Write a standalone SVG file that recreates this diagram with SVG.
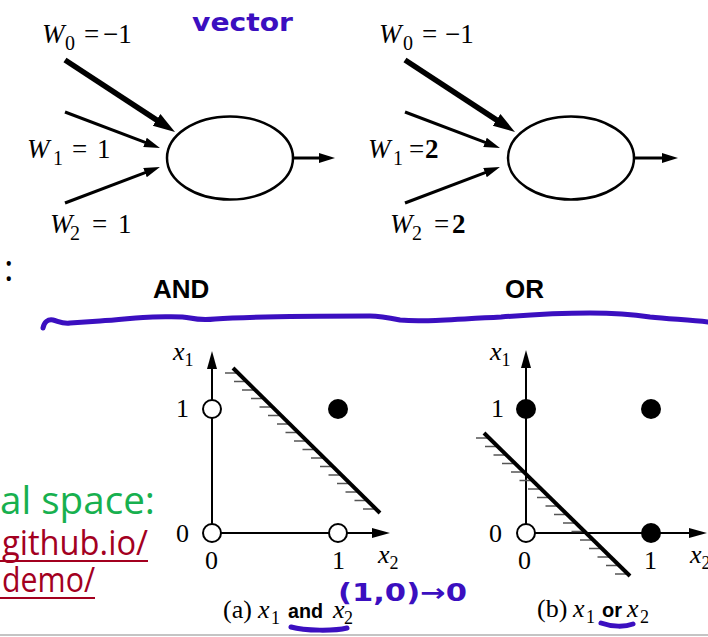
<svg xmlns="http://www.w3.org/2000/svg" width="708" height="637" viewBox="0 0 708 637">
<style>
.serif{font-family:"Liberation Serif","Times New Roman",serif;fill:#000}
.w{font-size:27px}
.sub{font-size:20px}
.lab{font-size:26px}
.lsub{font-size:18px}
.it{font-style:italic}
.bold{font-weight:bold}
.sans{font-family:"Liberation Sans",Arial,sans-serif;font-weight:bold;fill:#000}
.pen{fill:none;stroke:#3b0fc0;stroke-width:5;stroke-linecap:round;stroke-linejoin:round}
.hand{font-family:"DejaVu Sans",sans-serif;font-weight:bold;fill:#3b0fc0}
.ell{fill:#fff;stroke:#000;stroke-width:2.5}
.edge{stroke:#000;fill:none}
.axis{stroke:#000;stroke-width:2;fill:none}
.open{fill:#fff;stroke:#000;stroke-width:2}
.dot{fill:#000}
.sep{stroke:#000;stroke-width:4;fill:none}
.hatch{stroke:#555;stroke-width:1.5;fill:none}
.slide{font-family:"Open Sans","Noto Sans",sans-serif}
</style>
<defs>
<marker id="ahThick" markerUnits="userSpaceOnUse" markerWidth="24" markerHeight="16" refX="3" refY="8" orient="auto"><path d="M0,1 L22,8 L0,15 z" fill="#000"/></marker>
<marker id="ah" markerUnits="userSpaceOnUse" markerWidth="18" markerHeight="12" refX="3" refY="6" orient="auto"><path d="M0,1 L16,6 L0,11 z" fill="#000"/></marker>
<marker id="axh" markerUnits="userSpaceOnUse" markerWidth="20" markerHeight="12" refX="2" refY="6" orient="auto"><path d="M0,1 L18,6 L0,11 z" fill="#000"/></marker>
</defs>
<rect width="708" height="637" fill="#fff"/>

<g id="neuron-and">
<ellipse class="ell" cx="230" cy="158" rx="63" ry="41.5"/>
<text class="serif w" x="42" y="43"><tspan class="it">W</tspan><tspan class="sub" x="65" y="50">0</tspan><tspan x="84" y="43">=</tspan><tspan x="103">−1</tspan></text>
<text class="serif w" x="27" y="158"><tspan class="it">W</tspan><tspan class="sub" x="53" y="165">1</tspan><tspan x="72" y="158">=</tspan><tspan x="97">1</tspan></text>
<text class="serif w" x="50" y="233"><tspan class="it">W</tspan><tspan class="sub" x="70" y="240">2</tspan><tspan x="92" y="233">=</tspan><tspan x="118">1</tspan></text>
</g>

<g id="neuron-or">
<ellipse class="ell" cx="571" cy="158" rx="63" ry="41.5"/>
<text class="serif w" x="379" y="43"><tspan class="it">W</tspan><tspan class="sub" x="403" y="50">0</tspan><tspan x="422" y="43">=</tspan><tspan x="445">−1</tspan></text>
<text class="serif w" x="368" y="158"><tspan class="it">W</tspan><tspan class="sub" x="393" y="165">1</tspan><tspan x="409" y="158">=</tspan><tspan x="425" class="bold">2</tspan></text>
<text class="serif w" x="390" y="233"><tspan class="it">W</tspan><tspan class="sub" x="412" y="240">2</tspan><tspan x="434" y="233">=</tspan><tspan x="452" class="bold">2</tspan></text>
</g>

<g id="connectors">
<line class="edge" x1="65" y1="60" x2="159.1" y2="121.6" stroke-width="5.5" marker-end="url(#ahThick)"/>
<line class="edge" x1="65" y1="112" x2="147.8" y2="143.4" stroke-width="3" marker-end="url(#ah)"/>
<line class="edge" x1="65" y1="203" x2="147.8" y2="171.6" stroke-width="3" marker-end="url(#ah)"/>
<line class="edge" x1="293" y1="158" x2="322" y2="158" stroke-width="3" marker-end="url(#ah)"/>
<line class="edge" x1="405" y1="60" x2="499.1" y2="121.6" stroke-width="5.5" marker-end="url(#ahThick)"/>
<line class="edge" x1="405" y1="112" x2="487.8" y2="143.4" stroke-width="3" marker-end="url(#ah)"/>
<line class="edge" x1="405" y1="203" x2="487.8" y2="171.6" stroke-width="3" marker-end="url(#ah)"/>
<line class="edge" x1="634" y1="158" x2="665" y2="158" stroke-width="3" marker-end="url(#ah)"/>
</g>

<g id="headings">
<text class="sans" x="153" y="298" font-size="26">AND</text>
<text class="sans" x="505" y="298" font-size="26">OR</text>
</g>

<g id="plot-and">
<line class="axis" x1="212" y1="533" x2="212" y2="367" marker-end="url(#axh)"/>
<line class="axis" x1="212" y1="533" x2="374" y2="533" marker-end="url(#axh)"/>
<path class="hatch" d="M225,373h13M234,381.5h13M242,390h13M251,398.5h13M259.5,407h13M268,415.5h13M277,424h13M285.5,432.5h13M294,441h13M302.5,449.5h13M311,458h13M320,466.5h13M328.5,475h13M337,483.5h13M345.5,492h13M354.5,500.5h13M363,509h13"/>
<line class="sep" x1="233" y1="368" x2="380" y2="513"/>
<circle class="open" cx="212" cy="409" r="9"/>
<circle class="open" cx="212" cy="533" r="9"/>
<circle class="open" cx="338" cy="533" r="9"/>
<circle class="dot" cx="338" cy="409" r="10"/>
<text class="serif lab" x="173" y="360"><tspan class="it">x</tspan><tspan class="lsub" y="366">1</tspan></text>
<text class="serif lab" x="176" y="417">1</text>
<text class="serif lab" x="176" y="542">0</text>
<text class="serif lab" x="205" y="569">0</text>
<text class="serif lab" x="332" y="569">1</text>
<text class="serif lab" x="378" y="563"><tspan class="it">x</tspan><tspan class="lsub" y="569">2</tspan></text>
<text class="serif lab" x="223" y="618" font-size="25">(a) <tspan class="it" x="258">x</tspan><tspan class="lsub" x="271" y="624">1</tspan><tspan class="sans" x="288" y="618" font-size="20" textLength="35" lengthAdjust="spacingAndGlyphs">and</tspan><tspan class="it" x="333" y="618">x</tspan><tspan class="lsub" x="344" y="624">2</tspan></text>
</g>

<g id="plot-or">
<line class="axis" x1="526" y1="533" x2="526" y2="366" marker-end="url(#axh)"/>
<line class="axis" x1="526" y1="533" x2="691" y2="533" marker-end="url(#axh)"/>
<path class="hatch" d="M476,438h13M485,446.5h13M493.5,455h13M502,463.5h13M511,472h13M519.5,480.5h13M528,489h13M537,497.5h13M545.5,506h13M554,514.5h13M563,523h13M571.5,531.5h13M580,540h13M589,548.5h13M597.5,557h13M606,565.5h13M615,574h13"/>
<line class="sep" x1="484" y1="433" x2="630" y2="576"/>
<circle class="open" cx="526" cy="533" r="9"/>
<circle class="dot" cx="526" cy="409" r="10"/>
<circle class="dot" cx="651" cy="409" r="10"/>
<circle class="dot" cx="651" cy="533" r="10"/>
<text class="serif lab" x="490" y="360"><tspan class="it">x</tspan><tspan class="lsub" y="366">1</tspan></text>
<text class="serif lab" x="491" y="417">1</text>
<text class="serif lab" x="489" y="542">0</text>
<text class="serif lab" x="518" y="569">0</text>
<text class="serif lab" x="644" y="569">1</text>
<text class="serif lab" x="690" y="563"><tspan class="it">x</tspan><tspan class="lsub" y="569">2</tspan></text>
<text class="serif lab" x="537" y="617" font-size="25">(b) <tspan class="it" x="573">x</tspan><tspan class="lsub" x="586" y="623">1</tspan><tspan class="sans" x="602" y="617" font-size="20">or</tspan><tspan class="it" x="627" y="617">x</tspan><tspan class="lsub" x="640" y="623">2</tspan></text>
</g>

<g id="slide-text">
<text class="slide" x="4" y="281" font-size="36" fill="#000">:</text>
<text class="slide" x="0" y="514" font-size="38" fill="#17b04f" textLength="155" lengthAdjust="spacingAndGlyphs">al space:</text>
<text class="slide" x="2" y="555" font-size="34" fill="#a3001f" textLength="146" lengthAdjust="spacingAndGlyphs">github.io/</text>
<line x1="0" y1="561" x2="148" y2="561" stroke="#a3001f" stroke-width="2"/>
<text class="slide" x="2" y="592" font-size="34" fill="#a3001f" textLength="93" lengthAdjust="spacingAndGlyphs">demo/</text>
<line x1="0" y1="598" x2="95" y2="598" stroke="#a3001f" stroke-width="2"/>
<line x1="0" y1="635" x2="708" y2="635" stroke="#c4c4c4" stroke-width="2"/>
</g>

<g id="annotations">
<text class="hand" x="192" y="31" font-size="24" textLength="101" lengthAdjust="spacingAndGlyphs">vector</text>
<path class="pen" d="M43,328 C44,322 48,319 53,320 C58,321 62,324 70,323 L100,321 C120,320 140,317 153,317 C170,317 180,316 190,318 C200,320 205,320 215,319 C240,317 300,316 370,316 C380,316 390,318 400,320 C420,322 440,320 501,317 C540,314 560,313 590,313 C615,313 630,314 650,317 C670,319 690,320 708,322"/>
<text class="hand" x="338" y="601" font-size="24" textLength="129" lengthAdjust="spacingAndGlyphs">(1,0)→0</text>
<path class="pen" stroke-width="4" d="M291,627 C305,631 335,631 347,628"/>
<path class="pen" stroke-width="4" d="M601,623 C612,627 625,627 633,624"/>
</g>
</svg>
